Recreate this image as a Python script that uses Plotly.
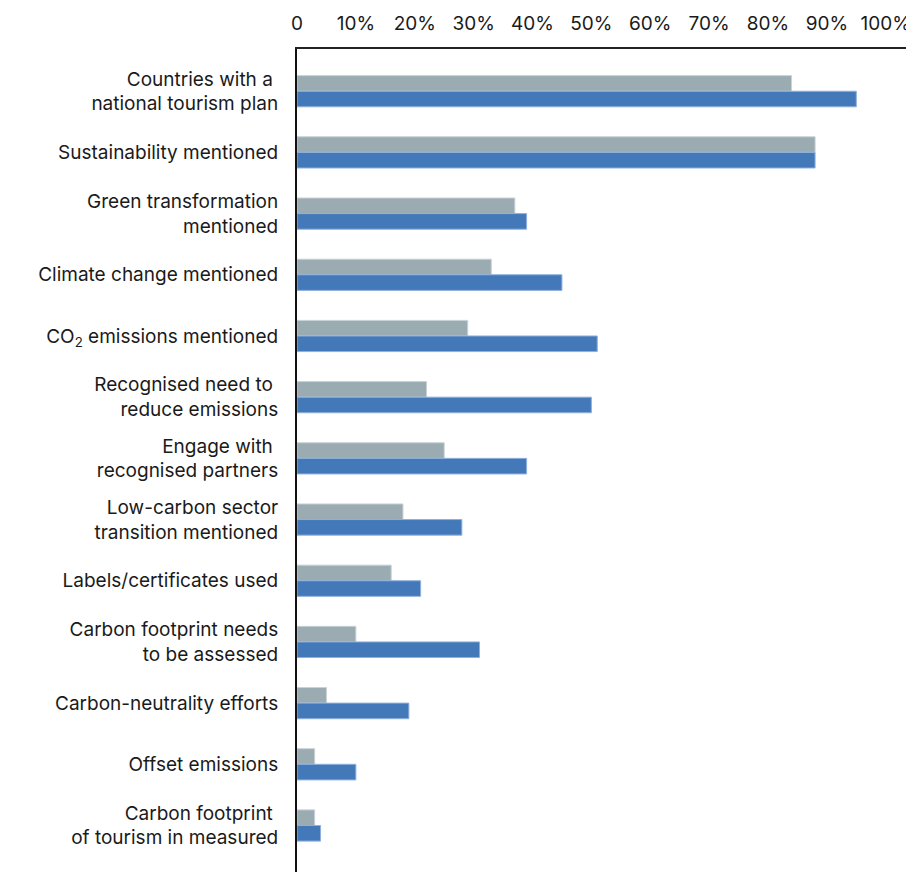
import plotly.graph_objects as go

categories = [
    "Countries with a <br>national tourism plan",
    "Sustainability mentioned",
    "Green transformation<br>mentioned",
    "Climate change mentioned",
    "CO<sub>2</sub> emissions mentioned",
    "Recognised need to <br>reduce emissions",
    "Engage with <br>recognised partners",
    "Low-carbon sector<br>transition mentioned",
    "Labels/certificates used",
    "Carbon footprint needs<br>to be assessed",
    "Carbon-neutrality efforts",
    "Offset emissions",
    "Carbon footprint <br>of tourism in measured",
]
series_gray = [84, 88, 37, 33, 29, 22, 25, 18, 16, 10, 5, 3, 3]
series_blue = [95, 88, 39, 45, 51, 50, 39, 28, 21, 31, 19, 10, 4]
tick_values = [0, 10, 20, 30, 40, 50, 60, 70, 80, 90, 100]
tick_labels = ["0", "10%", "20%", "30%", "40%", "50%", "60%", "70%", "80%", "90%", "100%"]

fig = go.Figure()
fig.add_trace(go.Bar(
    y=categories, x=series_gray, orientation="h", name="Gray",
    marker=dict(color="#9AABB2", line=dict(color="#C9D2D6", width=1)),
))
fig.add_trace(go.Bar(
    y=categories, x=series_blue, orientation="h", name="Blue",
    marker=dict(color="#4479B9", line=dict(color="#8FB0DC", width=1)),
))

fig.update_layout(
    width=906, height=872,
    margin=dict(l=289, r=0, t=41, b=8),
    paper_bgcolor="white", plot_bgcolor="white",
    barmode="group", bargap=0.49, bargroupgap=0,
    showlegend=False,
    font=dict(family="Inter, Roboto, sans-serif", size=19, color="#1a1a1a"),
    xaxis=dict(
        side="top", range=[0, 104.8], tickvals=tick_values, ticktext=tick_labels,
        showgrid=False, zeroline=False, showline=True, linecolor="#222",
        linewidth=2, ticks="", ticklabelstandoff=9,
        tickfont=dict(size=19, color="#1a1a1a"),
    ),
    yaxis=dict(
        type="category", range=[12.76, -0.69], showgrid=False, zeroline=False,
        showline=True, linecolor="#111", linewidth=2, ticks="",
        ticklabelstandoff=13, tickfont=dict(size=19, color="#1a1a1a"),
    ),
)

fig.write_html("out.html")
